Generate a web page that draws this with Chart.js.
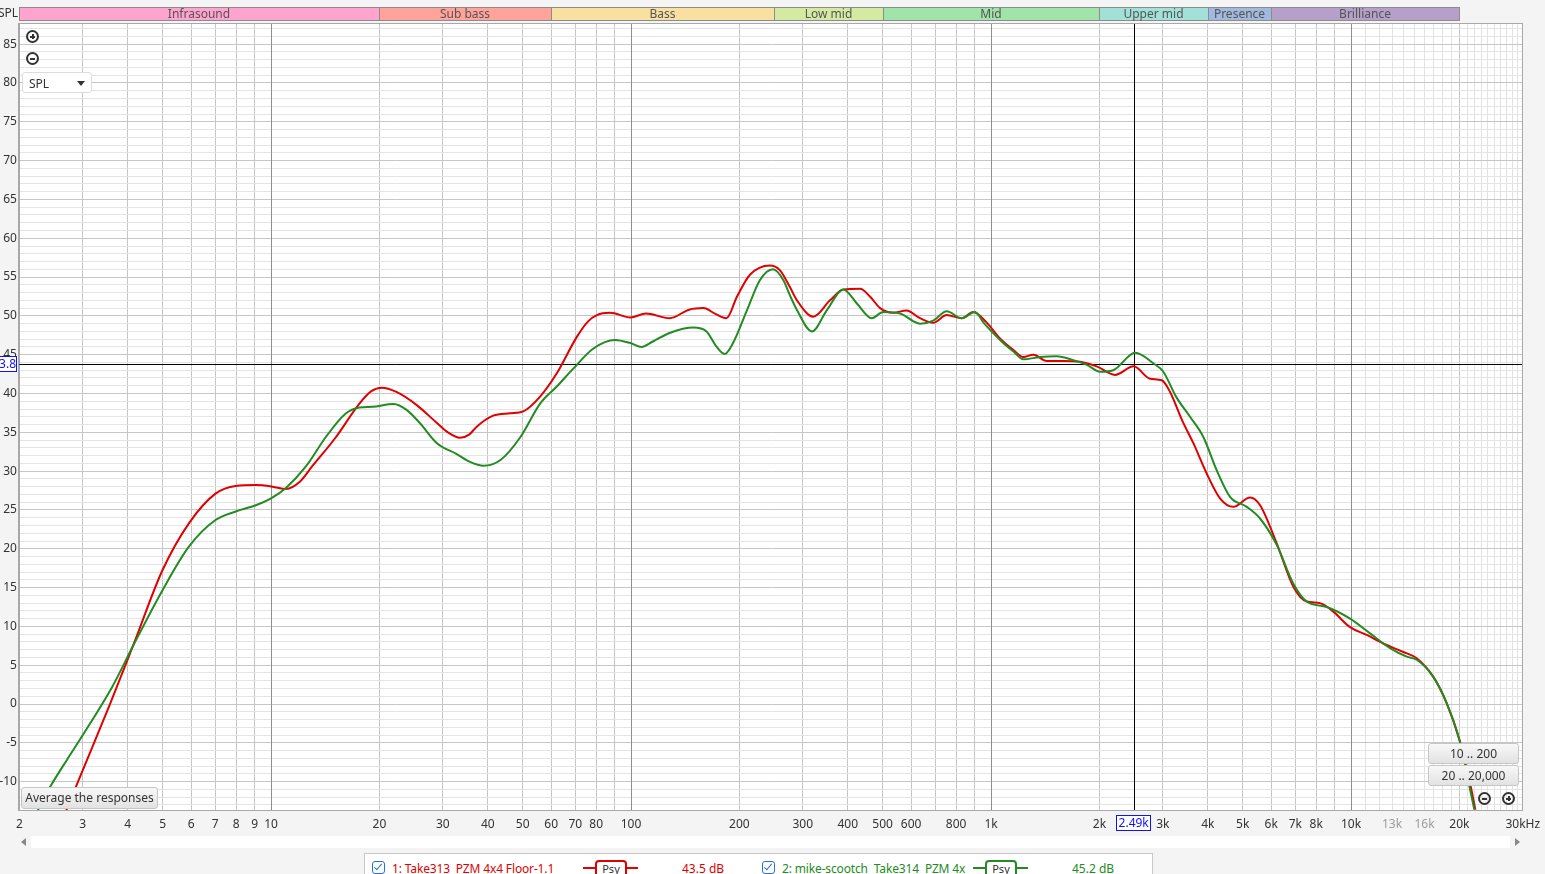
<!DOCTYPE html>
<html>
<head>
<meta charset="utf-8">
<script src="https://cdn.jsdelivr.net/npm/chart.js@4.4.0/dist/chart.umd.min.js"></script>
<style>
  body { margin: 0; background: #f4f4f4; font-family: 'Noto Sans', sans-serif; overflow: hidden; }
  #wrap { position: relative; width: 1545px; height: 874px; overflow: hidden; }
  #wrap canvas { position: absolute; left: 0; top: 0; }
  .txt { position: absolute; font-size: 12px; color: #333; white-space: pre; }
  .btn { position: absolute; box-sizing: border-box; background: linear-gradient(#f8f8f8, #e2e2e2);
         border: 1px solid #c6c6c6; border-radius: 3px; font-size: 12px; color: #333;
         text-align: center; line-height: 19px; white-space: pre; }
  .zoom { position: absolute; box-sizing: border-box; width: 13px; height: 13px;
          border: 2px solid #333; border-radius: 50%; }
  .zoom::before { content: ''; position: absolute; left: 2px; top: 3.5px; width: 5px; height: 2px; background: #333; }
  .zoom.plus::after { content: ''; position: absolute; left: 3.5px; top: 2px; width: 2px; height: 5px; background: #333; }
  .check { position: absolute; box-sizing: border-box; width: 13px; height: 13px;
           border: 1.5px solid #2a6fd6; border-radius: 3px; background: #fff; }
  .check::after { content: ''; position: absolute; left: 3px; top: 0px; width: 3px; height: 7px;
                  border-right: 1.6px solid #2a6fd6; border-bottom: 1.6px solid #2a6fd6; transform: rotate(40deg); }
  .psyline { position: absolute; height: 2px; }
  .psybox { position: absolute; box-sizing: border-box; height: 20px; border: 2px solid; border-radius: 4px;
            background: #fff; font-size: 11px; color: #333; text-align: center; line-height: 13px; }
  .leg { position: absolute; font-size: 12px; white-space: pre; top: 860px; }
</style>
</head>
<body>
<div id="wrap">
  <canvas id="fr-chart" width="1545" height="874"></canvas>

  <div class="txt" style="left:-2px; top:4px;">SPL</div>
  <div class="zoom plus" style="left:26px; top:30px;"></div>
  <div class="zoom" style="left:26px; top:52px;"></div>
  <div style="position:absolute; left:22px; top:72px; width:70px; height:21px; box-sizing:border-box;
              background:#fff; border:1px solid #dcdcdc; border-radius:3px;">
    <span class="txt" style="left:6px; top:2px;">SPL</span>
    <span style="position:absolute; left:54px; top:8px; width:0; height:0; border-left:4px solid transparent;
                 border-right:4px solid transparent; border-top:5px solid #333;"></span>
  </div>

  <div class="btn" style="left:21px; top:787px; width:137px; height:22px;">Average the responses</div>
  <div class="btn" style="left:1428px; top:743px; width:91px; height:21px;">10 .. 200</div>
  <div class="btn" style="left:1428px; top:765px; width:91px; height:21px;">20 .. 20,000</div>
  <div class="zoom" style="left:1478px; top:792px;"></div>
  <div class="zoom plus" style="left:1502px; top:792px;"></div>

  <!-- horizontal scroll bar -->
  <div style="position:absolute; left:31px; top:836px; width:1479px; height:12px; background:#fff;"></div>
  <div style="position:absolute; left:21px; top:838px; width:0; height:0; border-top:4px solid transparent;
              border-bottom:4px solid transparent; border-right:5px solid #888;"></div>
  <div style="position:absolute; left:1515px; top:838px; width:0; height:0; border-top:4px solid transparent;
              border-bottom:4px solid transparent; border-left:5px solid #888;"></div>

  <!-- measurement list -->
  <div style="position:absolute; left:364px; top:853px; width:789px; height:40px; box-sizing:border-box;
              background:#fff; border:1px solid #c8c8c8;"></div>
  <div class="check" style="left:372px; top:861px;"></div>
  <div class="leg" style="left:392px; color:#e00000; letter-spacing:-0.15px;">1: Take313  PZM 4x4 Floor-1.1</div>
  <div class="psyline" style="left:583px; top:867px; width:55px; background:#e00000;"></div>
  <div class="psybox" style="left:595px; top:860px; width:32px; border-color:#e00000;">Psy</div>
  <div class="leg" style="left:682px; color:#e00000;">43.5 dB</div>
  <div class="check" style="left:762px; top:861px;"></div>
  <div class="leg" style="left:782px; color:#228b22; letter-spacing:-0.15px;">2: mike-scootch  Take314  PZM 4x</div>
  <div class="psyline" style="left:973px; top:867px; width:55px; background:#228b22;"></div>
  <div class="psybox" style="left:985px; top:860px; width:32px; border-color:#228b22;">Psy</div>
  <div class="leg" style="left:1072px; color:#228b22;">45.2 dB</div>
</div>

<script>
// measurement 1 (red) - frequency in Hz, level in dB SPL
const redFreq = [2.70, 2.91, 3.57, 4.16, 4.99, 5.92, 7.01, 7.98, 9.07, 10.1, 11.0, 12.0, 13.0, 15.1, 17.6, 19.0,
  20.3, 22.3, 25.4, 28.9, 31.0, 33.5, 35.5, 37.2, 41.4, 46.1, 50.2, 55.9, 62.2, 70.7, 76.0, 80.4, 87.5, 99.6,
  110, 128, 145, 159, 171, 184, 197, 214, 243, 259, 276, 289, 321, 357, 389, 433, 461, 492, 535, 582, 635,
  691, 753, 829, 893, 970, 1059, 1154, 1229, 1311, 1428, 1588, 1767, 1966, 2210, 2490, 2765, 2980, 3143,
  3390, 3648, 3972, 4325, 4711, 5242, 5588, 6217, 6915, 7532, 8201, 8929, 9936, 11055, 12294, 13975, 15220,
  16926, 18446, 20000, 21408, 22150];
const redDb = [-13.7, -10.0, 0.0, 7.8, 17.2, 23.3, 27.1, 28.1, 28.2, 28.0, 27.7, 28.6, 30.6, 34.3, 38.7, 40.3,
  40.75, 40.2, 38.5, 36.2, 35.0, 34.3, 34.7, 35.7, 37.15, 37.45, 37.7, 39.6, 42.6, 47.3, 49.3, 50.1, 50.4, 49.8,
  50.3, 49.7, 50.8, 51.0, 50.3, 49.7, 52.5, 55.3, 56.5, 55.9, 53.75, 52.0, 49.9, 52.0, 53.4, 53.5, 52.5, 51.0,
  50.4, 50.7, 49.7, 49.1, 50.1, 49.7, 50.5, 49.2, 47.1, 45.6, 44.7, 45.0, 44.2, 44.2, 44.1, 43.5, 42.4, 43.5,
  41.9, 41.7, 40.2, 36.6, 33.6, 29.7, 26.5, 25.4, 26.6, 25.6, 20.7, 15.1, 13.2, 13.0, 11.9, 9.9, 8.9, 7.8,
  6.7, 5.9, 3.5, 0.1, -4.6, -10.2, -13.6];

// measurement 2 (green)
const greenFreq = [2.25, 2.44, 2.71, 3.0, 3.62, 4.16, 5.0, 5.92, 7.01, 7.98, 9.07, 10.0, 10.98, 12.5, 14.2,
  16.1, 17.6, 19.1, 21.9, 23.8, 25.9, 28.9, 32.8, 35.7, 38.9, 43.3, 49.3, 55.9, 62.2, 69.1, 78.6, 90.2, 99.6,
  107, 115, 128, 149, 162, 173, 182, 192, 210, 228, 248, 265, 276, 289, 318, 350, 389, 424, 466, 502, 559,
  635, 691, 753, 829, 902, 958, 1070, 1154, 1229, 1368, 1522, 1693, 1845, 2008, 2186, 2515, 2823, 3010, 3265,
  3571, 3888, 4236, 4612, 5133, 5588, 6217, 6915, 7532, 8561, 9936, 11292, 12834, 14281, 15220, 16926, 18446,
  20000, 21300, 22000];
const greenDb = [-13.7, -10.6, -7.2, -4.0, 2.2, 7.7, 14.7, 20.3, 23.7, 24.8, 25.6, 26.5, 27.8, 30.6, 34.4,
  37.4, 38.2, 38.3, 38.65, 37.9, 36.2, 33.6, 32.2, 31.2, 30.7, 31.4, 34.4, 38.7, 40.9, 43.2, 45.8, 46.9, 46.5,
  46.0, 46.7, 47.8, 48.5, 48.0, 46.0, 45.1, 46.5, 50.75, 54.6, 56.0, 54.6, 52.7, 50.75, 48.0, 50.75, 53.4,
  51.6, 49.7, 50.5, 50.3, 49.0, 49.4, 50.6, 49.7, 50.5, 49.0, 46.7, 45.4, 44.4, 44.7, 44.8, 44.3, 43.7, 42.8,
  43.0, 45.25, 43.9, 42.8, 39.6, 37.0, 34.4, 30.1, 26.7, 25.4, 23.9, 20.5, 15.5, 13.2, 12.5, 11.0, 9.1, 7.2,
  6.1, 5.7, 3.5, 0.1, -4.6, -10.5, -13.6];

// frequency bands shown above the plot
const bandNames = ['Infrasound', 'Sub bass', 'Bass', 'Low mid', 'Mid', 'Upper mid', 'Presence', 'Brilliance'];
const bandEdges = [2, 20, 60, 250, 500, 2000, 4000, 6000, 20000];
const bandColors = ['#ffa3cf', '#ffa39b', '#f8e1a0', '#d5eaa1', '#a1e4a9', '#a1e1d8', '#a1b8df', '#b5a0c9'];

// x tick labels
const xLabelValues = [2, 3, 4, 5, 6, 7, 8, 9, 10, 20, 30, 40, 50, 60, 70, 80, 100, 200, 300, 400, 500, 600,
  800, 1000, 2000, 3000, 4000, 5000, 6000, 7000, 8000, 10000, 13000, 16000, 20000, 30000];
const xLabelTexts = ['2', '3', '4', '5', '6', '7', '8', '9', '10', '20', '30', '40', '50', '60', '70', '80',
  '100', '200', '300', '400', '500', '600', '800', '1k', '2k', '3k', '4k', '5k', '6k', '7k', '8k', '10k',
  '13k', '16k', '20k', '30kHz'];
const xFaintLabels = [13000, 16000];
const decadeFreqs = [10, 100, 1000, 10000];

// cursor
const cursorFreq = 2490;
const cursorFreqText = '2.49k';
const cursorLevel = 43.8;
const cursorLevelText = '43.8';

const X_MIN = 2, X_MAX = 30000, Y_MIN = -13.65, Y_MAX = 87.6;

// grid positions: 1..9 per decade, then every 1k above 10k
let gridFreqs = [];
[1, 10, 100, 1000].forEach(d => {
  for (let m = 1; m <= 9; m++) if (m * d >= X_MIN) gridFreqs.push(m * d);
});
for (let f = 10000; f <= X_MAX; f += 1000) gridFreqs.push(f);

let gridLevels = [];
for (let v = Math.ceil(Y_MIN); v <= Math.floor(Y_MAX); v++) gridLevels.push(v);

const chromePlugin = {
  id: 'chrome',
  beforeDraw(chart) {
    const { ctx, chartArea: a } = chart;
    ctx.save();
    ctx.fillStyle = '#ffffff';
    ctx.fillRect(a.left, a.top, a.right - a.left, a.bottom - a.top);
    ctx.restore();
  },
  beforeDatasetsDraw(chart) {
    const { ctx, chartArea: a, scales: { x, y } } = chart;
    ctx.save();
    ctx.lineWidth = 1;
    // decade lines on top of the fine horizontal grid
    ctx.strokeStyle = '#8e8e8e';
    ctx.beginPath();
    decadeFreqs.forEach(f => {
      const px = Math.round(x.getPixelForValue(f)) + 0.5;
      ctx.moveTo(px, a.top); ctx.lineTo(px, a.bottom);
    });
    ctx.stroke();
    // cursor cross
    const cx = Math.round(x.getPixelForValue(cursorFreq)) + 0.5;
    const cy = Math.round(y.getPixelForValue(cursorLevel)) + 0.5;
    ctx.strokeStyle = '#000';
    ctx.beginPath();
    ctx.moveTo(cx, a.top); ctx.lineTo(cx, a.bottom);
    ctx.moveTo(a.left, cy); ctx.lineTo(a.right, cy);
    ctx.stroke();
    ctx.restore();
  },
  afterDraw(chart) {
    const { ctx, chartArea: a, scales: { x, y } } = chart;
    ctx.save();
    // plot frame
    ctx.strokeStyle = '#a8a8a8';
    ctx.lineWidth = 1;
    ctx.strokeRect(Math.round(a.left) - 0.5, Math.round(a.top) - 0.5, Math.round(a.right - a.left) + 1, Math.round(a.bottom - a.top) + 1);

    // band bar
    ctx.font = '12px "Noto Sans"';
    ctx.textAlign = 'center';
    ctx.textBaseline = 'middle';
    for (let i = 0; i < bandNames.length; i++) {
      const x0 = Math.round(x.getPixelForValue(bandEdges[i]));
      const x1 = Math.round(x.getPixelForValue(bandEdges[i + 1]));
      ctx.fillStyle = bandColors[i];
      ctx.fillRect(x0, 7, x1 - x0, 14);
      ctx.strokeStyle = '#8c8c8c';
      ctx.strokeRect(x0 + 0.5, 7.5, x1 - x0, 13);
      ctx.fillStyle = '#555';
      ctx.fillText(bandNames[i], (x0 + x1) / 2, 14.5);
    }

    // cursor readouts
    const cx = x.getPixelForValue(cursorFreq);
    const cy = y.getPixelForValue(cursorLevel);
    ctx.fillStyle = '#fff';
    ctx.strokeStyle = '#1010ff';
    ctx.fillRect(-2, cy - 8, 19, 16);
    ctx.strokeRect(-1.5, Math.round(cy) - 7.5, 18, 15);
    ctx.fillRect(cx - 18, 815, 35, 16);
    ctx.strokeRect(Math.round(cx) - 17.5, 815.5, 34, 15);
    ctx.fillStyle = '#1010ff';
    ctx.textAlign = 'right';
    ctx.fillText(cursorLevelText, 16, cy + 0.5);
    ctx.textAlign = 'center';
    ctx.fillText(cursorFreqText, cx, 823.5);
    ctx.restore();
  }
};

const ctx = document.getElementById('fr-chart').getContext('2d');
Chart.defaults.font.family = "'Noto Sans', sans-serif";
Chart.defaults.font.size = 12;
Chart.defaults.color = '#333';

const frChart = new Chart(ctx, {
  type: 'line',
  data: {
    datasets: [
      {
        label: '1: Take313  PZM 4x4 Floor-1.1',
        data: redFreq.map((f, i) => ({ x: f, y: redDb[i] })),
        borderColor: '#e00000',
        borderWidth: 2,
        pointRadius: 0,
        cubicInterpolationMode: 'monotone',
        clip: 0,
        order: 1,
      },
      {
        label: '2: mike-scootch  Take314  PZM 4x',
        data: greenFreq.map((f, i) => ({ x: f, y: greenDb[i] })),
        borderColor: '#228b22',
        borderWidth: 2,
        pointRadius: 0,
        cubicInterpolationMode: 'monotone',
        clip: 0,
        order: 0,
      },
    ],
  },
  options: {
    responsive: false,
    animation: false,
    layout: { padding: { top: 24, left: 0, right: 22.2, bottom: 0 } },
    plugins: {
      legend: { display: false },
      tooltip: { enabled: false },
    },
    scales: {
      x: {
        type: 'logarithmic',
        min: X_MIN,
        max: X_MAX,
        afterBuildTicks: (scale) => { scale.ticks = gridFreqs.map(v => ({ value: v })); },
        afterFit: (scale) => {
          scale.height = 64;
          scale.paddingLeft = 0;
          scale.paddingRight = 0;
        },
        border: { color: '#a8a8a8' },
        grid: {
          drawTicks: false,
          color: (c) => {
            const v = c.tick ? c.tick.value : 0;
            if (decadeFreqs.includes(v)) return '#8e8e8e';
            if (v > 10000 && v !== 20000 && v !== 30000) return '#e2e2e2';
            return '#c6c6c6';
          },
        },
        ticks: {
          autoSkip: false,
          maxRotation: 0,
          padding: 7,
          color: (c) => (c.tick && xFaintLabels.includes(c.tick.value)) ? '#9c9c9c' : '#333',
          callback: (value) => {
            const k = xLabelValues.indexOf(value);
            return k >= 0 ? xLabelTexts[k] : '';
          },
        },
      },
      y: {
        type: 'linear',
        min: Y_MIN,
        max: Y_MAX,
        afterBuildTicks: (scale) => { scale.ticks = gridLevels.map(v => ({ value: v })); },
        afterFit: (scale) => {
          scale.width = 19.4;
          scale.paddingTop = 0;
          scale.paddingBottom = 0;
        },
        border: { color: '#a8a8a8' },
        grid: {
          drawTicks: false,
          color: (c) => (c.tick && c.tick.value % 5 === 0) ? '#c6c6c6' : '#e4e4e4',
        },
        ticks: {
          autoSkip: false,
          padding: 2.5,
          callback: (value) => (value % 5 === 0 && value <= 85) ? String(value) : '',
        },
      },
    },
  },
  plugins: [chromePlugin],
});
</script>
</body>
</html>
